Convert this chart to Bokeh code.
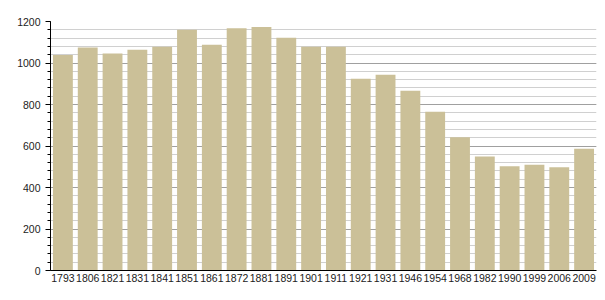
from bokeh.plotting import figure
from bokeh.models import FactorRange, Range1d, FixedTicker, ColumnDataSource
from bokeh.embed import file_html
from bokeh.resources import INLINE

years = ["1793", "1806", "1821", "1831", "1841", "1851", "1861", "1872", "1881", "1891",
         "1901", "1911", "1921", "1931", "1946", "1954", "1968", "1982", "1990", "1999",
         "2006", "2009"]
population = [1038, 1075, 1046, 1064, 1078, 1160, 1088, 1168, 1174, 1122,
              1078, 1078, 924, 943, 866, 765, 642, 549, 502, 510, 497, 587]
y_major = [0, 200, 400, 600, 800, 1000, 1200]
y_minor = list(range(0, 1201, 40))

src = ColumnDataSource(dict(year=years, pop=population))

p = figure(width=605, height=300, x_range=FactorRange(*years, range_padding=0),
           y_range=Range1d(0, 1200), output_backend="svg", toolbar_location=None,
           min_border_left=50, min_border_right=9, min_border_top=21, min_border_bottom=30)
p.outline_line_color = None
p.background_fill_color = "white"

p.xgrid.grid_line_color = None
p.ygrid.ticker = FixedTicker(ticks=y_major, minor_ticks=y_minor)
p.ygrid.grid_line_color = "#a0a0a0"
p.ygrid.grid_line_width = 1
p.ygrid.minor_grid_line_color = "#d0d0d0"
p.ygrid.minor_grid_line_width = 1

p.vbar(x="year", top="pop", width=0.8, source=src, fill_color="#CBC098", line_color=None)

p.yaxis.ticker = FixedTicker(ticks=y_major, minor_ticks=y_minor)
p.yaxis.major_tick_out = 5
p.yaxis.major_tick_in = 0
p.yaxis.minor_tick_out = 3
p.yaxis.minor_tick_in = 0
p.yaxis.axis_line_color = "black"
p.yaxis.major_tick_line_color = "black"
p.yaxis.minor_tick_line_color = "black"
p.yaxis.major_label_text_font = "Liberation Sans"
p.yaxis.major_label_text_font_size = "10.5px"
p.yaxis.major_label_text_color = "#222222"
p.yaxis.major_label_standoff = 5

p.xaxis.major_tick_out = 0
p.xaxis.major_tick_in = 0
p.xaxis.axis_line_color = "black"
p.xaxis.major_label_text_font = "Liberation Sans"
p.xaxis.major_label_text_font_size = "10.5px"
p.xaxis.major_label_text_color = "#222222"
p.xaxis.major_label_standoff = 3

open("out.html", "w").write(file_html(p, INLINE))
